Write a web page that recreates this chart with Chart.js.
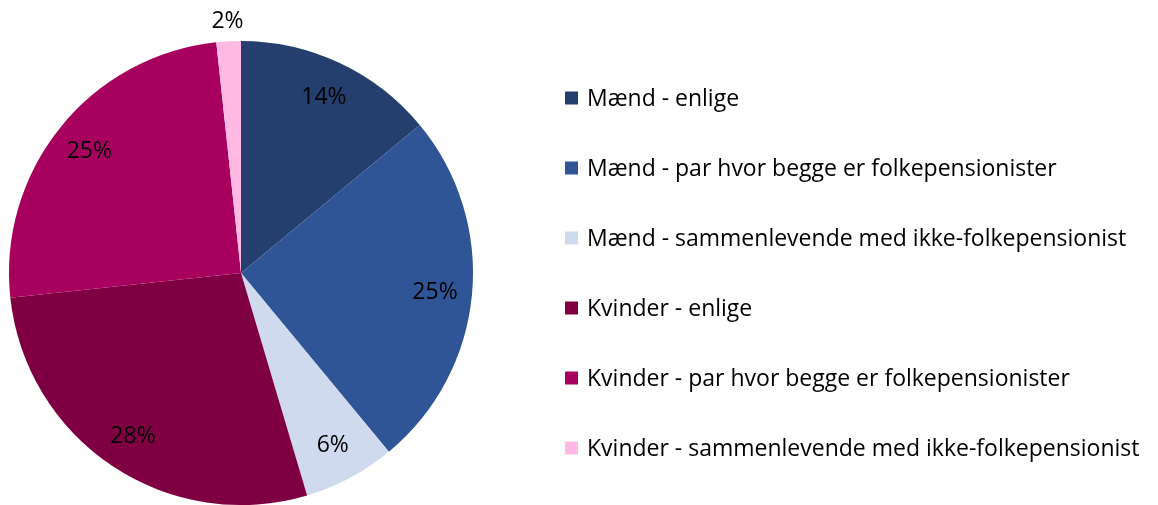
<!DOCTYPE html>
<html>
<head>
<meta charset="utf-8">
<script src="https://cdn.jsdelivr.net/npm/chart.js@4.4.1/dist/chart.umd.min.js"></script>
<style>
  html, body { margin: 0; padding: 0; background: #fff; }
  #wrap { width: 1158px; height: 505px; }
</style>
</head>
<body>
<div id="wrap"><canvas id="myChart"></canvas></div>
<script>
var categories = [
    'Mænd - enlige',
    'Mænd - par hvor begge er folkepensionister',
    'Mænd - sammenlevende med ikke-folkepensionist',
    'Kvinder - enlige',
    'Kvinder - par hvor begge er folkepensionister',
    'Kvinder - sammenlevende med ikke-folkepensionist'
];
var shares = [14.0, 25.0, 6.4, 27.9, 25.0, 1.7];
var colors = ['#243F6E', '#2F5597', '#CFDAEF', '#7F0042', '#A7005F', '#FFB9E2'];

var FONT = '"Open Sans", Lato, sans-serif';

// percentage labels inside the slices (small slice gets its label outside)
var sliceLabels = {
    id: 'sliceLabels',
    afterDatasetsDraw: function (chart) {
        var ctx = chart.ctx;
        var meta = chart.getDatasetMeta(0);
        var total = shares.reduce(function (a, b) { return a + b; }, 0);
        ctx.save();
        ctx.font = '23px ' + FONT;
        ctx.fillStyle = '#000';
        ctx.textAlign = 'center';
        ctx.textBaseline = 'middle';
        meta.data.forEach(function (arc, i) {
            var p = arc.getProps(['x', 'y', 'startAngle', 'endAngle', 'outerRadius'], true);
            var mid = (p.startAngle + p.endAngle) / 2;
            var r = shares[i] / total < 0.03 ? p.outerRadius + 21 : p.outerRadius * 0.84;
            var txt = Math.round(shares[i] / total * 100) + '%';
            ctx.fillText(txt, p.x + Math.cos(mid) * r, p.y + Math.sin(mid) * r + 1);
        });
        ctx.restore();
    }
};

// legend on the right side, one item per row
var sideLegend = {
    id: 'sideLegend',
    afterDraw: function (chart) {
        var ctx = chart.ctx;
        ctx.save();
        ctx.font = '23px ' + FONT;
        ctx.textBaseline = 'middle';
        ctx.textAlign = 'left';
        categories.forEach(function (name, i) {
            var y = 98 + i * 70;
            ctx.fillStyle = colors[i];
            ctx.fillRect(565, y - 6.5, 13, 13);
            ctx.fillStyle = '#000';
            ctx.fillText(name, 587, y + 1);
        });
        ctx.restore();
    }
};

document.addEventListener('DOMContentLoaded', function () {
    var ctx = document.getElementById('myChart').getContext('2d');

    var myChart = new Chart(ctx, {
        type: 'pie',
        data: {
            labels: categories,
            datasets: [{
                data: shares,
                backgroundColor: colors,
                borderWidth: 0
            }]
        },
        options: {
            responsive: true,
            maintainAspectRatio: false,
            animation: false,
            layout: {
                padding: { left: 9, top: 41, right: 685, bottom: 0 }
            },
            plugins: {
                legend: { display: false },
                tooltip: { enabled: false }
            }
        },
        plugins: [sliceLabels, sideLegend]
    });
});
</script>
</body>
</html>
